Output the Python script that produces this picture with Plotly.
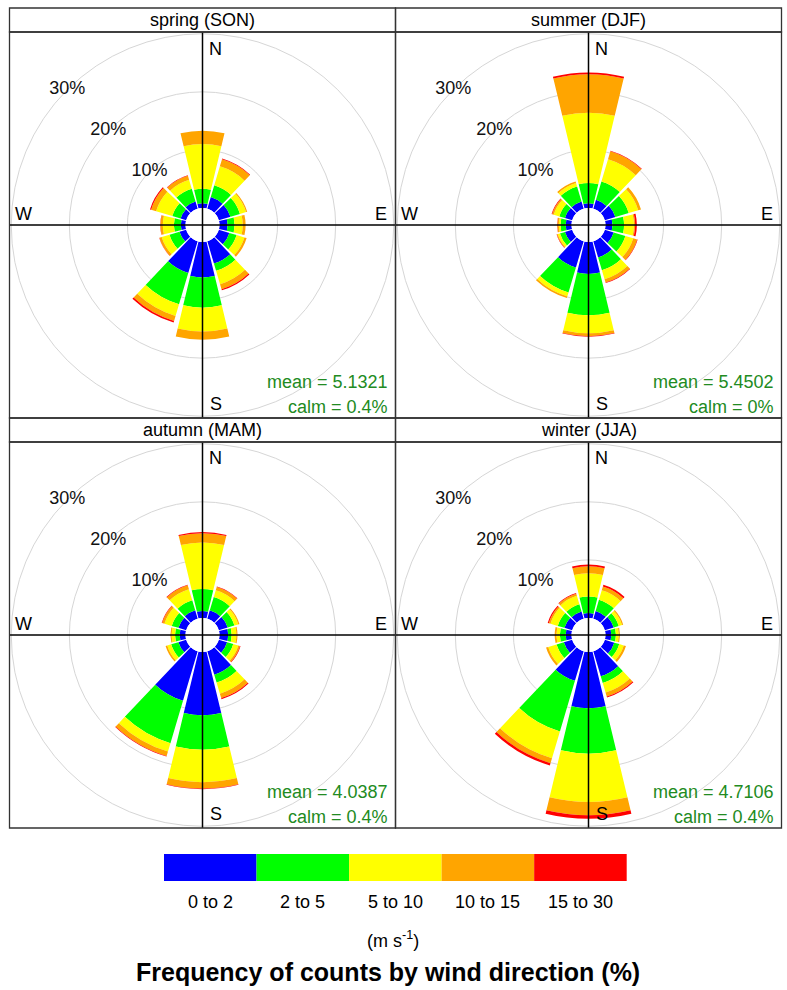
import plotly.graph_objects as go

# Wind direction bins (degrees from north) and speed classes (m/s)
directions = [0, 30, 60, 90, 120, 150, 180, 210, 240, 270, 300, 330]
speed_bins = ["0 to 2", "2 to 5", "5 to 10", "10 to 15", "15 to 30"]
speed_colors = ["#0000FF", "#00FF00", "#FFFF00", "#FFA500", "#FF0000"]

seasons = ["spring (SON)", "summer (DJF)", "autumn (MAM)", "winter (JJA)"]
mean_speed = ["5.1321", "5.4502", "4.0387", "4.7106"]
calm_pct = ["0.4%", "0%", "0.4%", "0.4%"]

# Frequency (%) per direction, one row per speed class
spring_freq = [
    [0.8, 2.1, 2.1, 1.4, 1.9, 4.0, 6.1, 5.7, 1.2, 0.8, 1.0, 1.3],
    [2.5, 2.1, 1.7, 1.2, 1.3, 1.3, 5.2, 5.6, 1.8, 1.2, 1.5, 2.3],
    [7.7, 3.4, 1.1, 1.4, 1.4, 2.4, 4.1, 2.1, 1.4, 1.9, 2.9, 1.6],
    [2.3, 1.3, 0.2, 0.5, 0.4, 0.9, 1.4, 0.9, 0.4, 0.4, 0.9, 0.7],
    [0.0, 0.1, 0.0, 0.0, 0.0, 0.2, 0.0, 0.3, 0.05, 0.05, 0.2, 0.1],
]
summer_freq = [
    [0.8, 1.6, 1.9, 1.2, 1.6, 2.9, 5.5, 4.7, 1.3, 1.0, 1.3, 1.3],
    [3.5, 3.3, 2.4, 2.0, 2.1, 2.3, 7.1, 4.5, 0.9, 0.9, 1.0, 2.7],
    [12.1, 4.0, 1.7, 1.7, 1.4, 1.6, 3.1, 0.7, 0.4, 0.3, 1.0, 0.6],
    [6.6, 1.4, 0.5, 0.2, 0.7, 0.6, 0.5, 0.3, 0.15, 0.25, 0.3, 0.3],
    [0.3, 0.1, 0.0, 0.3, 0.1, 0.1, 0.1, 0.0, 0.05, 0.05, 0.1, 0.0],
]
autumn_freq = [
    [1.2, 1.5, 1.6, 1.5, 1.5, 4.2, 10.9, 8.9, 1.4, 1.0, 1.4, 1.5],
    [3.8, 2.4, 1.2, 0.6, 1.1, 1.4, 5.9, 7.6, 1.3, 0.8, 1.2, 1.8],
    [8.0, 1.2, 0.7, 0.8, 0.9, 2.0, 5.6, 1.5, 0.7, 0.6, 1.3, 2.0],
    [1.6, 0.6, 0.2, 0.2, 0.3, 0.8, 1.1, 0.8, 0.3, 0.2, 0.4, 0.7],
    [0.2, 0.1, 0.0, 0.0, 0.1, 0.2, 0.1, 0.1, 0.0, 0.0, 0.1, 0.1],
]
winter_freq = [
    [0.85, 1.4, 1.6, 1.0, 1.7, 4.5, 9.7, 5.3, 1.5, 1.0, 1.4, 1.3],
    [2.85, 2.0, 0.9, 0.8, 0.9, 1.2, 7.8, 9.1, 1.3, 1.0, 1.2, 1.3],
    [4.0, 1.7, 0.6, 0.5, 0.8, 1.7, 8.3, 4.8, 1.5, 0.6, 1.3, 1.5],
    [1.2, 0.7, 0.2, 0.2, 0.4, 0.7, 2.3, 0.9, 0.4, 0.3, 0.3, 0.4],
    [0.3, 0.3, 0.0, 0.0, 0.0, 0.2, 0.6, 0.4, 0.0, 0.0, 0.2, 0.1],
]
season_freqs = [spring_freq, summer_freq, autumn_freq, winter_freq]

grid_pct = [10, 20, 30]
grid_labels = ["10%", "20%", "30%"]

W, H = 787, 990
FONT = "Liberation Sans, Arial, sans-serif"


def px(x):
    return x / W


def py(y):
    return 1 - y / H


# Panel geometry in pixels: (left, top of strip)
PANEL = 386
STRIP = 24
LEFTS = [9.5, 395.5]
TOPS = [8, 418]
positions = [(LEFTS[0], TOPS[0]), (LEFTS[1], TOPS[0]), (LEFTS[0], TOPS[1]), (LEFTS[1], TOPS[1])]

fig = go.Figure()
shapes = []
annotations = []

for i, (season, freqs) in enumerate(zip(seasons, season_freqs)):
    sub = "polar" if i == 0 else f"polar{i + 1}"
    for band, color, vals in zip(speed_bins, speed_colors, freqs):
        fig.add_trace(go.Barpolar(
            r=vals, theta=directions, width=27,
            marker=dict(color=color, line=dict(width=0)),
            name=band, showlegend=False, subplot=sub, hoverinfo="skip",
        ))
    fig.add_trace(go.Scatterpolar(
        r=grid_pct, theta=[315] * 3, text=grid_labels, mode="text",
        textfont=dict(family=FONT, size=18, color="#111111"),
        showlegend=False, subplot=sub, hoverinfo="skip",
    ))

    left, top = positions[i]
    ptop = top + STRIP
    pbottom = ptop + PANEL
    right = left + PANEL
    cx = left + PANEL / 2
    cy = ptop + PANEL / 2

    fig.update_layout({sub: dict(
        domain=dict(x=[px(left), px(right)], y=[py(pbottom), py(ptop)]),
        hole=17 / 193,
        bgcolor="white",
        barmode="stack",
        angularaxis=dict(rotation=90, direction="clockwise", showgrid=False,
                         showticklabels=False, showline=False, ticks=""),
        radialaxis=dict(range=[0, 30.3], tickvals=grid_pct, showticklabels=False,
                        ticks="", showline=False, gridcolor="#d6d6d6", gridwidth=1),
    )})

    # cross hairs through the rose centre
    shapes.append(dict(type="line", xref="paper", yref="paper", layer="above",
                       x0=px(cx), x1=px(cx), y0=py(ptop), y1=py(pbottom),
                       line=dict(color="black", width=1.5)))
    shapes.append(dict(type="line", xref="paper", yref="paper", layer="above",
                       x0=px(left), x1=px(right), y0=py(cy), y1=py(cy),
                       line=dict(color="black", width=1.5)))
    # strip and panel frames
    shapes.append(dict(type="rect", xref="paper", yref="paper", layer="above",
                       x0=px(left), x1=px(right), y0=py(ptop), y1=py(top),
                       line=dict(color="#333333", width=1.3)))
    shapes.append(dict(type="rect", xref="paper", yref="paper", layer="above",
                       x0=px(left), x1=px(right), y0=py(pbottom), y1=py(ptop),
                       line=dict(color="#333333", width=1.3)))

    annotations.append(dict(text=season, x=px(cx), y=py(top + STRIP / 2),
                            font=dict(size=18, color="black")))
    for lab, dx, dy in [("N", 13, -176.5), ("E", 178.5, -11.5), ("S", 13.5, 178.5), ("W", -179, -11.5)]:
        annotations.append(dict(text=lab, x=px(cx + dx), y=py(cy + dy),
                                font=dict(size=18, color="black")))
    annotations.append(dict(text=f"mean = {mean_speed[i]}", x=px(right - 6), y=py(pbottom - 36),
                            xanchor="right", font=dict(size=18, color="#228B22")))
    annotations.append(dict(text=f"calm = {calm_pct[i]}", x=px(right - 6), y=py(pbottom - 11),
                            xanchor="right", font=dict(size=18, color="#228B22")))

# speed class key
key_left, key_right, key_top, key_bottom = 164, 626.7, 854, 881
seg = (key_right - key_left) / len(speed_bins)
for j, (band, color) in enumerate(zip(speed_bins, speed_colors)):
    x0 = key_left + j * seg
    shapes.append(dict(type="rect", xref="paper", yref="paper",
                       x0=px(x0), x1=px(x0 + seg), y0=py(key_bottom), y1=py(key_top),
                       fillcolor=color, line=dict(width=0)))
    annotations.append(dict(text=band, x=px(x0 + seg / 2), y=py(902),
                            font=dict(size=18, color="black")))
annotations.append(dict(text="(m s<sup>-1</sup>)", x=px(393), y=py(939),
                        font=dict(size=18, color="black")))
annotations.append(dict(text="<b>Frequency of counts by wind direction (%)</b>", x=px(388), y=py(972),
                        font=dict(size=25, color="black")))

for a in annotations:
    a.update(xref="paper", yref="paper", showarrow=False,
             yanchor="middle", xanchor=a.get("xanchor", "center"))

fig.update_layout(
    width=W, height=H,
    margin=dict(l=0, r=0, t=0, b=0),
    paper_bgcolor="white", plot_bgcolor="white",
    font=dict(family=FONT),
    shapes=shapes, annotations=annotations,
    showlegend=False,
)

fig.write_html("out.html")
